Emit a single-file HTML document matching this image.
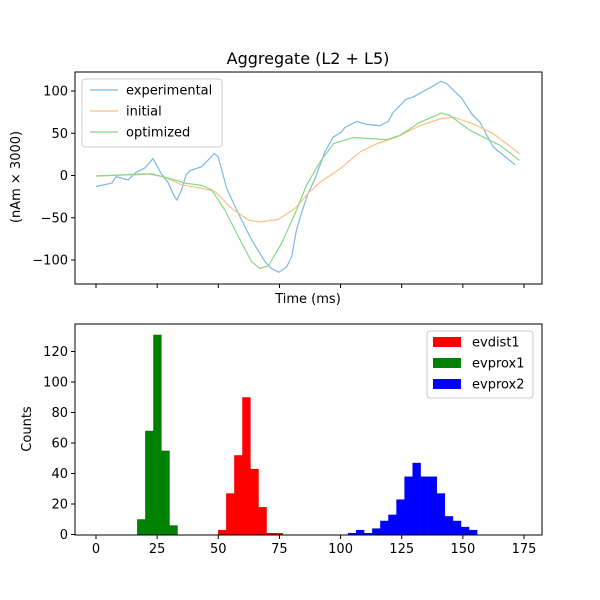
<!DOCTYPE html>
<html><head><meta charset="utf-8"><style>
body{margin:0;background:#fff}
svg{display:block;font-family:"DejaVu Sans","Liberation Sans",sans-serif}
</style></head><body>
<svg id="fig" width="600" height="600" viewBox="0 0 600 600">
<rect width="600" height="600" fill="#fff"/>
<text x="308" y="64" font-size="16" text-anchor="middle">Aggregate (L2 + L5)</text>
<text x="308" y="303" font-size="13" text-anchor="middle">Time (ms)</text>
<text transform="translate(20,177) rotate(-90)" font-size="13" text-anchor="middle">(nAm × 3000)</text>
<text transform="translate(31,429) rotate(-90)" font-size="13" text-anchor="middle">Counts</text>
<g id="topg"></g>
<g id="botg"></g>
</svg>
<script>
const xTicks=[0,25,50,75,100,125,150,175];
const yTicksTop=[-100,-50,0,50,100];
const yTicksBot=[0,20,40,60,80,100,120];
const expX=[0,6.5,8.2,13.2,16.4,20,23.3,26.6,29.6,31.9,33.1,35,36.8,38.4,43.2,48.4,50,53.4,58.2,63.6,69.1,71.8,74.8,78,80,82,84.5,86.5,89.5,93.6,97,100.4,101.8,106.6,110.7,116.1,119.5,121.6,126.7,129.7,137.9,141,143.4,149.5,153.6,157,162.4,171.3];
const expY=[-13,-9,-1.4,-5.3,3.8,9,20,2.6,-9,-24,-29,-17,0.6,5.7,10.4,26,22,-15,-45,-76,-102,-110,-114.6,-108,-96,-64,-40,-23,-4,28,45.5,51.5,57,64,60.5,59,64,75,90,93,106,111.5,108.6,91.7,73,63,33.7,12.8];
const initX=[0,21.9,28.2,35,43.2,48.6,55.5,62.3,67,74.5,81.4,86.8,91.6,99.8,108,114.8,123,132.5,140.6,146.1,154.3,162.4,167.9,173.1];
const initY=[-0.6,1.5,-2,-11,-15,-19,-39,-52.7,-55,-52,-39,-21,-8,8,28,37.6,45.5,59,67,69,61,49.5,37.6,25.8];
const optX=[0,18.7,22.7,28.2,36.4,43.2,47.3,52.7,59.6,63.6,67,70.5,75.9,81.4,86,91.6,97,105.2,118.8,124.3,132.5,141.3,144.7,152.9,159.7,165.2,173.1];
const optY=[-0.6,1.8,2,-2,-9,-11.6,-17,-41,-80,-102,-110,-107,-80,-45,-12,16,37.6,45,42.4,47.6,63,74,71,53.5,43.6,35.7,18];
const binW=3.3;
const distStart=49.9, distCounts=[3,27,52,90,43,18,1,1];
const prox1Start=16.8, prox1Counts=[10,68,131,55,6];
const prox2Start=103, prox2Counts=[1,3,1,4,9,13,23,38,47,38,38,27,12,9,5,3];

const NS="http://www.w3.org/2000/svg";
const L=75,R=542;
const xs=v=>96+v*(428/175);
const ysT=v=>175.5-v*0.845;
const ysB=v=>534.5-v*1.525;
function mk(p,tag,at){const e=document.createElementNS(NS,tag);for(const k in at)e.setAttribute(k,at[k]);p.appendChild(e);return e;}
const topG=document.getElementById('topg'),botG=document.getElementById('botg');

function axes(g,T,B,yT,ys,showX,nm){
  const f=mk(g,'rect',{x:L,y:T,width:R-L,height:B-T,fill:'none',stroke:'#000','stroke-width':1});
  
  
  xTicks.forEach(t=>{
    const l=mk(g,'line',{x1:xs(t),x2:xs(t),y1:B,y2:B+4,stroke:'#000'});
    
    
    if(showX){const tx=mk(g,'text',{x:xs(t),y:B+18,'font-size':13,'text-anchor':'middle'});tx.textContent=t;
      
      }
  });
  yT.forEach(t=>{
    const l=mk(g,'line',{x1:L-4,x2:L,y1:ys(t),y2:ys(t),stroke:'#000'});
    
    
    const tx=mk(g,'text',{x:L-7,y:ys(t)+4.5,'font-size':13,'text-anchor':'end'});tx.textContent=String(t).replace('-','\u2212');
    
    
  });
}
function line(xa,ya,c,nm){
  const p=mk(topG,'polyline',{points:xa.map((x,i)=>xs(x)+','+ysT(ya[i])).join(' '),fill:'none',stroke:c,'stroke-width':1.2});
  
  
}
line(expX,expY,'#7cb9e8','experimental-line');
line(initX,initY,'#ffbf86','initial-line');
line(optX,optY,'#86d986','optimized-line');
axes(topG,72,284,yTicksTop,ysT,false,'top-axes');

function hist(start,counts,c,nm){
  counts.forEach((n,i)=>{
    const x0=xs(start+i*binW),x1=xs(start+(i+1)*binW);
    const r=mk(botG,'rect',{x:x0,y:ysB(n),width:x1-x0+0.3,height:ysB(0)-ysB(n),fill:c});
    
    
  });
}
hist(distStart,distCounts,'#ff0000','evdist1');
hist(prox1Start,prox1Counts,'#008000','evprox1');
hist(prox2Start,prox2Counts,'#0000ff','evprox2');
axes(botG,324,535,yTicksBot,ysB,true,'bottom-axes');

function legend(g,x,y,w,h,items,patch,nm){
  const b=mk(g,'rect',{x:x,y:y,width:w,height:h,rx:3,fill:'#fff','fill-opacity':0.8,stroke:'#ccc'});
  
  
  items.forEach((it,i)=>{
    const cy=y+11+i*21;
    let m;
    if(patch) m=mk(g,'rect',{x:x+6,y:cy-5,width:28,height:10,fill:it[1]});
    else m=mk(g,'line',{x1:x+8,x2:x+36,y1:cy,y2:cy,stroke:it[1],'stroke-width':1.3});
    
    
    const t=mk(g,'text',{x:x+(patch?45:44),y:cy+4.5,'font-size':13});t.textContent=it[0];
    
    
  });
}
legend(topG,82,79,140,68,[['experimental','#7cb9e8'],['initial','#ffbf86'],['optimized','#86d986']],false,'legend-top');
legend(botG,427,331,106,67,[['evdist1','#ff0000'],['evprox1','#008000'],['evprox2','#0000ff']],true,'legend-bottom');
</script>
</body></html>
